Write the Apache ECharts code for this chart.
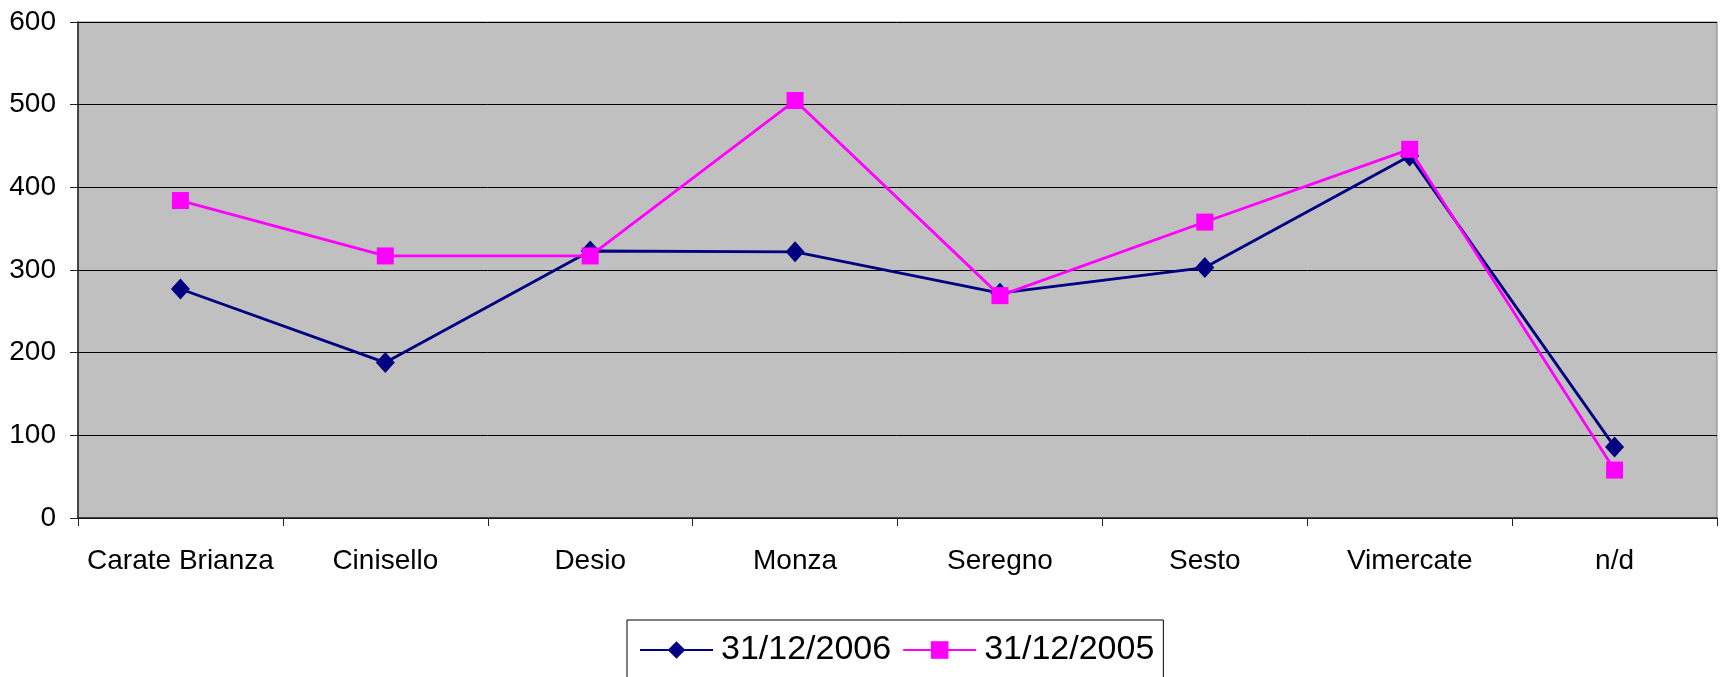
<!DOCTYPE html>
<html>
<head>
<meta charset="utf-8">
<script src="https://cdn.jsdelivr.net/npm/echarts@6/dist/echarts.min.js"></script>
<style>
  html, body { margin: 0; padding: 0; background: #ffffff; }
  #chart { width: 1722px; height: 677px; }
</style>
</head>
<body>
<div id="chart"></div>
<script>
// Districts along the category axis
const categories = ['Carate Brianza', 'Cinisello', 'Desio', 'Monza', 'Seregno', 'Sesto', 'Vimercate', 'n/d'];

// Counts at each reference date
const values2006 = [277, 188, 323, 322, 272, 303, 438, 86];
const values2005 = [384, 317, 317, 505, 269, 358, 446, 58];

// Series names shown in the legend
const seriesNames = ['31/12/2006', '31/12/2005'];

// Value axis range and step
const yMin = 0;
const yMax = 600;
const yStep = 100;

const FONT = '"Liberation Sans", Arial, sans-serif';

const chart = echarts.init(document.getElementById('chart'), null, { renderer: 'canvas' });

chart.setOption({
  animation: false,
  backgroundColor: '#ffffff',
  grid: {
    left: 78,
    right: 5,
    top: 22,
    bottom: 159,
    show: true,
    backgroundColor: '#C0C0C0',
    borderColor: '#808080',
    borderWidth: 1
  },
  legend: {
    left: 627,
    top: 620,
    orient: 'horizontal',
    data: seriesNames,
    itemWidth: 73,
    itemHeight: 22,
    itemGap: 11,
    padding: [13, 9, 40, 12],
    borderColor: '#000000',
    borderWidth: 1,
    backgroundColor: '#ffffff',
    textStyle: { fontFamily: FONT, fontSize: 34, color: '#000000', padding: [0, 0, 0, 3] }
  },
  xAxis: {
    type: 'category',
    data: categories,
    boundaryGap: true,
    axisLine: { show: true, lineStyle: { color: '#222222', width: 1.5 } },
    axisTick: { show: true, interval: 0, length: 8, inside: false, lineStyle: { color: '#222222', width: 1 } },
    axisLabel: { interval: 0, margin: 29, fontFamily: FONT, fontSize: 28, color: '#000000' },
    splitLine: { show: false }
  },
  yAxis: {
    type: 'value',
    min: yMin,
    max: yMax,
    interval: yStep,
    axisLine: { show: true, lineStyle: { color: '#222222', width: 1.5 } },
    axisTick: { show: true, length: 8, lineStyle: { color: '#222222', width: 1 } },
    axisLabel: { margin: 22, fontFamily: FONT, fontSize: 28, color: '#000000' },
    splitLine: { show: true, lineStyle: { color: '#000000', width: 1 } }
  },
  series: [
    {
      name: seriesNames[0],
      type: 'line',
      data: values2006,
      symbol: 'diamond',
      symbolSize: [19, 21],
      showAllSymbol: true,
      lineStyle: { color: '#000080', width: 2.8 },
      itemStyle: { color: '#000080' },
      z: 3
    },
    {
      name: seriesNames[1],
      type: 'line',
      data: values2005,
      symbol: 'rect',
      symbolSize: 17,
      showAllSymbol: true,
      lineStyle: { color: '#FF00FF', width: 2.8 },
      itemStyle: { color: '#FF00FF' },
      z: 4
    }
  ]
});
</script>
</body>
</html>
